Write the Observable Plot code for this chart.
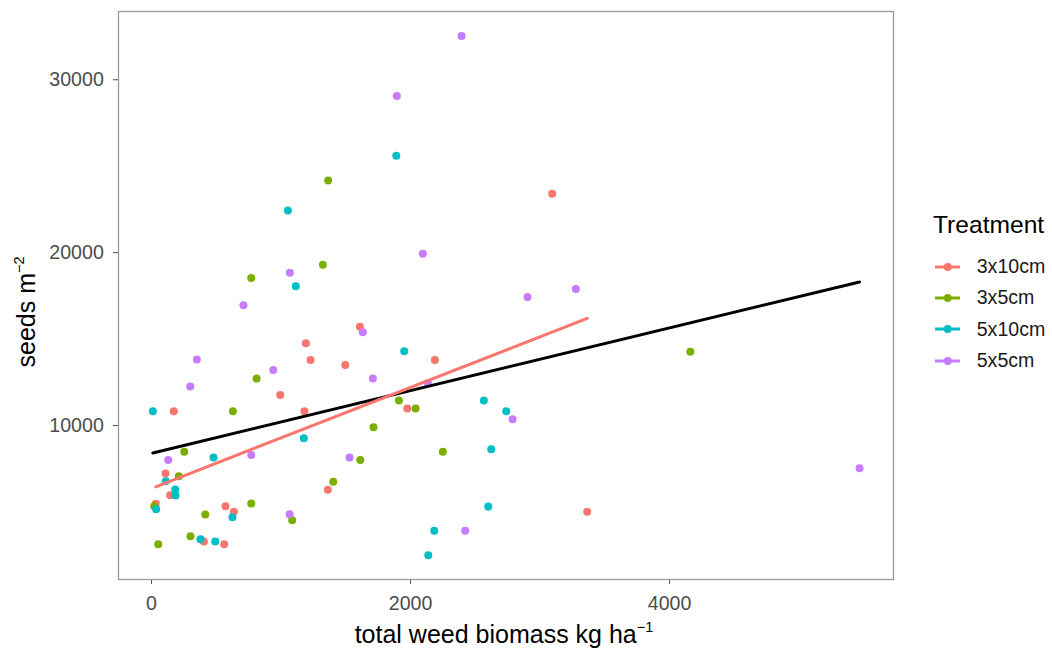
<!DOCTYPE html>
<html>
<head>
<meta charset="utf-8">
<script src="https://cdn.jsdelivr.net/npm/d3@7"></script>
<script src="https://cdn.jsdelivr.net/npm/@observablehq/plot@0.6"></script>
<style>
  html, body { margin: 0; padding: 0; background: #fff; }
  #wrap { position: relative; width: 1052px; height: 648px; font-family: "Liberation Sans", Arial, Helvetica, sans-serif; }
  #legend { position: absolute; left: 933px; top: 211px; color: #000; }
  #legend .title { font-size: 24.6px; line-height: 28px; white-space: nowrap; }
  #legend .rows { margin-top: 12px; }
  #legend .row { display: flex; align-items: center; height: 31.3px; }
  #legend .row span { font-size: 19.6px; margin-left: 13.7px; white-space: nowrap; color: #1a1a1a; }
</style>
</head>
<body>
<div id="wrap"><div id="chart"></div><div id="legend"></div></div>
<script>
// ---- data ----
const treatments = ["3x10cm", "3x5cm", "5x10cm", "5x5cm"];
const colors = ["#F8766D", "#7CAE00", "#00BFC4", "#C77CFF"];
const xTicks = [0, 2000, 4000];
const yTicks = [10000, 20000, 30000];

const biomass_3x10cm = [172, 994, 1181, 1228, 1496, 1192, 1609, 108, 144, 1361, 33, 571, 636, 404, 561, 2188, 1975, 3094, 3364];
const seeds_3x10cm   = [10827, 11774, 10827, 13797, 13497, 14757, 15722, 7226, 5971, 6283, 5474, 5336, 5012, 3295, 3139, 13786, 10983, 23410, 5012];

const biomass_3x5cm = [811, 628, 1714, 253, 1612, 211, 1403, 21, 770, 415, 1086, 52, 301, 1910, 2039, 2249, 1364, 1323, 770, 4160];
const seeds_3x5cm   = [12717, 10827, 9902, 8480, 8017, 7070, 6746, 5336, 5492, 4856, 4526, 3139, 3602, 11445, 10983, 8480, 24178, 19306, 18537, 14277];

const biomass_5x10cm = [10, 1176, 479, 110, 183, 185, 36, 625, 378, 492, 2566, 2739, 2623, 2600, 2183, 2137, 1053, 1114, 1890, 1951];
const seeds_5x10cm   = [10827, 9266, 8150, 6781, 6301, 5954, 5162, 4700, 3428, 3295, 11445, 10827, 8630, 5318, 3914, 2503, 22444, 18052, 25606, 14295];

const biomass_5x5cm = [350, 940, 1709, 299, 770, 129, 1529, 1066, 2134, 2788, 2422, 1068, 710, 1632, 2394, 1894, 2095, 3276, 2903, 5467];
const seeds_5x5cm   = [13815, 13208, 12717, 12254, 8306, 8017, 8150, 4873, 12468, 10364, 3914, 18843, 16953, 15393, 32525, 29057, 19942, 17901, 17439, 7532];

const series = [
  [biomass_3x10cm, seeds_3x10cm],
  [biomass_3x5cm, seeds_3x5cm],
  [biomass_5x10cm, seeds_5x10cm],
  [biomass_5x5cm, seeds_5x5cm]
];
const data = [];
series.forEach(([xs, ys], i) => xs.forEach((x, j) => data.push({treatment: treatments[i], biomass: x, seeds: ys[j]})));

const fontFamily = '"Liberation Sans", Arial, Helvetica, sans-serif';

const plot = Plot.plot({
  width: 910,
  height: 648,
  marginLeft: 118,
  marginRight: 17,
  marginTop: 11,
  marginBottom: 69,
  style: {fontFamily, fontSize: "19.6px", background: "#fff", overflow: "visible"},
  x: {domain: [-255, 5729], label: null},
  y: {domain: [1099, 33947], label: null},
  color: {domain: treatments, range: colors},
  marks: [
    Plot.axisX({ticks: xTicks, tickSize: 5, tickPadding: 11.5, color: "#4d4d4d", tickFormat: d => String(d), label: null}),
    Plot.axisY({ticks: yTicks, tickSize: 5, tickPadding: 9.7, color: "#4d4d4d", tickFormat: d => String(d), label: null}),
    Plot.dot(data, {x: "biomass", y: "seeds", fill: "treatment", r: 4}),
    Plot.linearRegressionY(data, {x: "biomass", y: "seeds", stroke: "#000", strokeWidth: 3, ci: 0}),
    Plot.linearRegressionY(data.filter(d => d.treatment === treatments[0]), {x: "biomass", y: "seeds", stroke: colors[0], strokeWidth: 3, ci: 0}),
    Plot.frame({stroke: "#999", strokeWidth: 1.3})
  ]
});
document.getElementById("chart").appendChild(plot);

// axis titles with superscripts
const svg = d3.select(plot);
const xt = svg.append("text")
  .attr("x", 504).attr("y", 643)
  .attr("text-anchor", "middle")
  .attr("font-size", "25px").attr("fill", "#000").attr("font-family", fontFamily);
xt.append("tspan").text("total weed biomass kg ha");
xt.append("tspan").attr("font-size", "14.5px").attr("dy", -11).text("\u22121");

const yt = svg.append("text")
  .attr("transform", "translate(35,312) rotate(-90)")
  .attr("text-anchor", "middle")
  .attr("font-size", "25px").attr("fill", "#000").attr("font-family", fontFamily);
yt.append("tspan").text("seeds m");
yt.append("tspan").attr("font-size", "14.5px").attr("dy", -11).text("\u22122");

// legend
const legend = d3.select("#legend");
legend.append("div").attr("class", "title").text("Treatment");
const rows = legend.append("div").attr("class", "rows");
treatments.forEach((t, i) => {
  const row = rows.append("div").attr("class", "row");
  const s = row.append("svg").attr("width", 30).attr("height", 20);
  s.append("line").attr("x1", 2).attr("x2", 27).attr("y1", 10).attr("y2", 10)
    .attr("stroke", colors[i]).attr("stroke-width", 3);
  s.append("circle").attr("cx", 14.7).attr("cy", 10).attr("r", 4).attr("fill", colors[i]);
  row.append("span").text(t);
});
</script>
</body>
</html>
